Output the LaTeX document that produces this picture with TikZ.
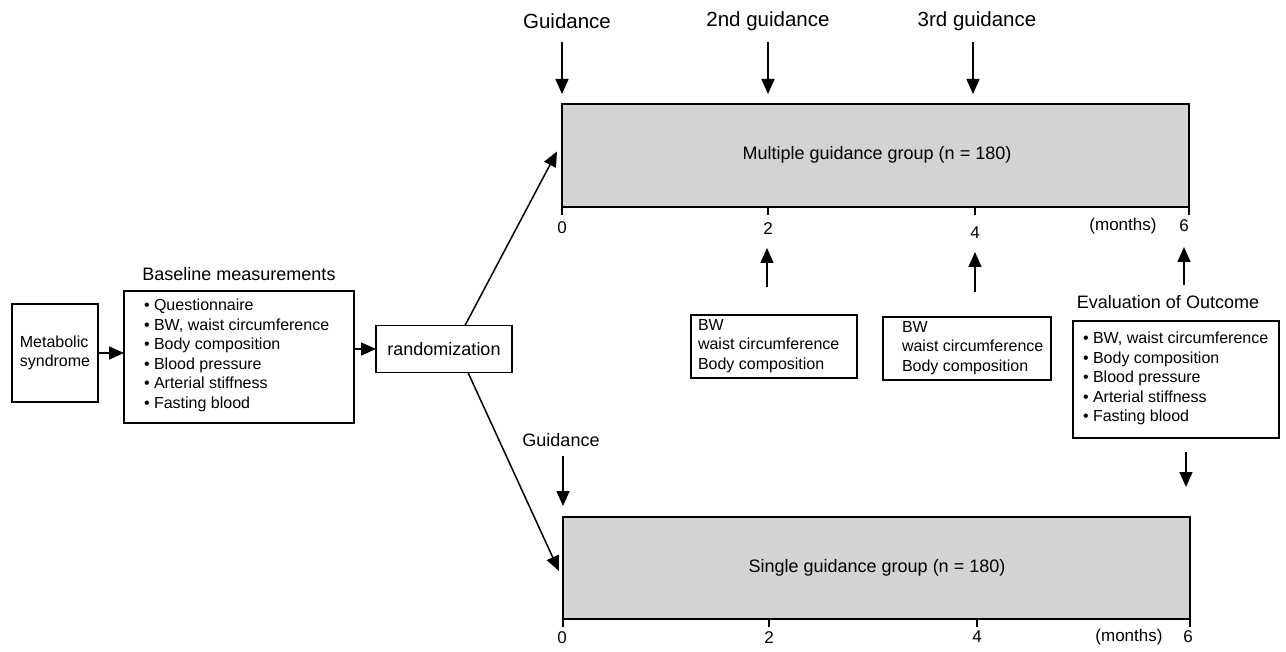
\documentclass[tikz,border=0pt]{standalone}
\usepackage{fontspec}
\setmainfont{Liberation Sans}
\usetikzlibrary{arrows.meta,calc}
\definecolor{boxgray}{RGB}{211,211,211}
\begin{document}
\begin{tikzpicture}[x=1pt,y=-1pt,
  every node/.style={inner sep=0pt,outer sep=0pt},
  frame/.style={draw=black,line width=1.8pt},
  grp/.style={frame,fill=boxgray},
  conn/.style={line width=1.5pt,-{Triangle[length=15pt,width=13pt]}},
  tick/.style={line width=1.8pt},
  toplab/.style={font=\fontsize{20.5}{24}\selectfont},
  lab/.style={font=\fontsize{18}{21}\selectfont},
  item/.style={font=\fontsize{16}{19.6}\selectfont,align=left},
  num/.style={font=\fontsize{17}{20}\selectfont}]
\useasboundingbox (0,0) rectangle (1286,652);

% left chain
\node[frame,minimum width=86pt,minimum height=98pt,item,align=left] (ms) at (55,353) {Metabolic\\syndrome};
\node[frame,minimum width=230pt,minimum height=132pt] (base) at (239,357) {};
\node[item,anchor=north west] (blist) at (144,299) {\textbullet\ Questionnaire\\\textbullet\ BW, waist circumference\\\textbullet\ Body composition\\\textbullet\ Blood pressure\\\textbullet\ Arterial stiffness\\\textbullet\ Fasting blood};
\node[lab] (blab) at (239,274) {Baseline measurements};
\node[frame,minimum width=136pt,minimum height=47pt,lab] (rand) at (444,349) {randomization};

\draw[conn] (ms.east) -- (ms.east -| base.west);
\draw[conn] (base.east |- rand.west) -- (rand.west);

% groups
\node[grp,minimum width=627pt,minimum height=103pt] (mg) at (875.5,155.5) {};
\node[lab] (mgt) at (877,155) {Multiple guidance group (n = 180)};
\node[grp,minimum width=627pt,minimum height=102pt] (sg) at (876.5,568) {};
\node[lab] (sgt) at (877,568) {Single guidance group (n = 180)};

\draw[conn] ([xshift=21pt]rand.north) -- ([shift={(-5pt,4pt)}]mg.west);
\draw[conn] ([xshift=24pt]rand.south) -- ([shift={(-4pt,-3pt)}]sg.west);

% top timeline
\foreach \xx/\nm in {562/t0,768/t2,975/t4,1189/t6}{
  \coordinate (\nm a) at (\xx,207); \coordinate (\nm b) at (\xx,215);
  \draw[tick] (\nm a) -- (\nm b);}
\node[num] (n0) at (562,228) {0};
\node[num] (n2) at (768,229) {2};
\node[num] (n4) at (975,233) {4};
\node[num] (mon1) at (1123,226) {(months)};
\node[num] (n6) at (1184,226) {6};

\node[toplab] (g1) at (567,21) {Guidance};
\node[toplab] (g2) at (768,21) {2nd guidance};
\node[toplab] (g3) at (977,21) {3rd guidance};
\coordinate (g1a) at (562,42); \coordinate (g1b) at (562,94);
\coordinate (g2a) at (768,42); \coordinate (g2b) at (768,94);
\coordinate (g3a) at (973,42); \coordinate (g3b) at (973,94);
\draw[conn] (g1a) -- (g1b);
\draw[conn] (g2a) -- (g2b);
\draw[conn] (g3a) -- (g3b);

% measurement boxes
\node[frame,minimum width=166pt,minimum height=63pt] (m1) at (774,346.5) {};
\node[item,anchor=north west] (m1t) at (698,319) {BW\\waist circumference\\Body composition};
\node[frame,minimum width=168pt,minimum height=63pt] (m2) at (967,348.5) {};
\node[item,anchor=north west] (m2t) at (902,321) {BW\\waist circumference\\Body composition};

\coordinate (u1a) at (767,287); \coordinate (u1b) at (767,248);
\coordinate (u2a) at (975,292); \coordinate (u2b) at (975,252);
\coordinate (u3a) at (1184,285); \coordinate (u3b) at (1184,247);
\draw[conn] (u1a) -- (u1b);
\draw[conn] (u2a) -- (u2b);
\draw[conn] (u3a) -- (u3b);

% evaluation
\node[lab] (elab) at (1168,302) {Evaluation of Outcome};
\node[frame,minimum width=206pt,minimum height=117pt] (ev) at (1176,379.5) {};
\node[item,anchor=north west] (evt) at (1083,332) {\textbullet\ BW, waist circumference\\\textbullet\ Body composition\\\textbullet\ Blood pressure\\\textbullet\ Arterial stiffness\\\textbullet\ Fasting blood};
\coordinate (d1a) at (1186,452); \coordinate (d1b) at (1186,487);
\draw[conn] (d1a) -- (d1b);

% lower guidance
\node[lab] (glow) at (561,440) {Guidance};
\coordinate (gla) at (563,456); \coordinate (glb) at (563,506);
\draw[conn] (gla) -- (glb);

% lower timeline
\foreach \xx/\nm in {563/s0,769/s2,977/s4,1190/s6}{
  \coordinate (\nm a) at (\xx,619); \coordinate (\nm b) at (\xx,627);
  \draw[tick] (\nm a) -- (\nm b);}
\node[num] (l0) at (562,638) {0};
\node[num] (l2) at (769,638) {2};
\node[num] (l4) at (977,637) {4};
\node[num] (mon2) at (1129,637) {(months)};
\node[num] (l6) at (1188,637) {6};
\end{tikzpicture}
\end{document}
